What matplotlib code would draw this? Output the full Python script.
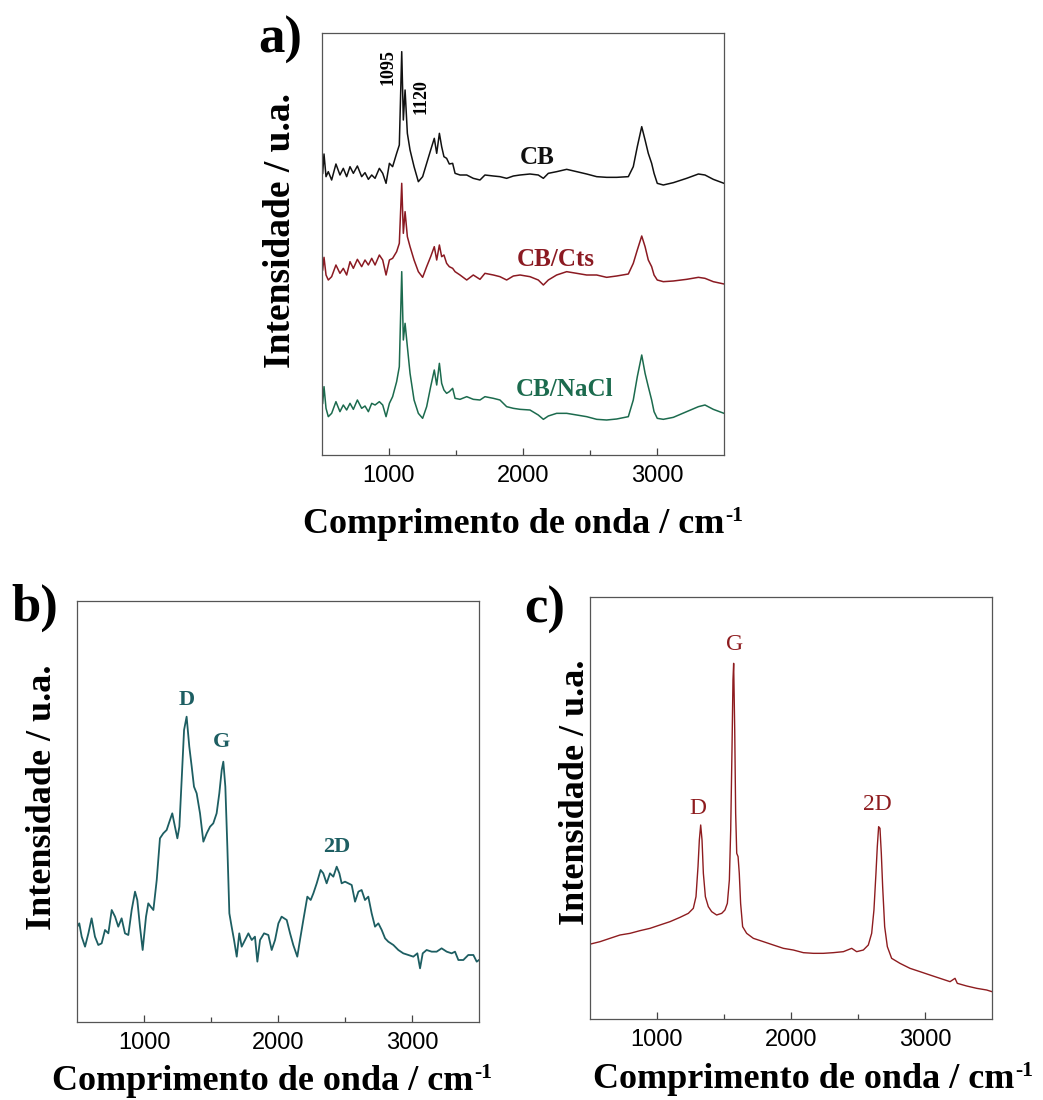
import numpy as np
import matplotlib
matplotlib.use("Agg")
import matplotlib.pyplot as plt
from matplotlib.ticker import FixedLocator

plt.rcParams['font.family'] = ['Liberation Serif', 'DejaVu Sans']

# ---- panel a: three stacked spectra on a common wavenumber grid ----
wn_a = [505, 515, 530, 547, 572, 604, 634, 659, 684, 709, 734, 764, 796, 821, 846, 871,
        896, 928, 953, 978, 1003, 1027, 1057, 1077, 1095, 1107, 1120, 1137, 1157, 1187,
        1219, 1251, 1281, 1311, 1338, 1356, 1376, 1393, 1410, 1430, 1450, 1475, 1493,
        1530, 1580, 1629, 1679, 1716, 1779, 1828, 1878, 1928, 1978, 2052, 2114, 2152,
        2189, 2251, 2326, 2401, 2475, 2550, 2624, 2699, 2786, 2823, 2853, 2886, 2911,
        2935, 2960, 2978, 3002, 3047, 3122, 3221, 3309, 3358, 3420, 3500]
cb = [40, 98, 30, 45, 20, 68, 35, 55, 30, 60, 40, 62, 30, 42, 22, 35,
      25, 55, 40, 10, 70, 60, 100, 125, 405, 200, 290, 160, 110, 60,
      15, 30, 70, 110, 145, 100, 160, 120, 90, 85, 68, 70, 40,
      35, 35, 25, 20, 35, 32, 30, 25, 32, 35, 38, 35, 25,
      40, 45, 52, 45, 38, 30, 28, 28, 30, 60, 120, 180, 140,
      100, 70, 40, 10, 5, 12, 25, 38, 35, 22, 10]
cb_cts = [50, 88, 35, 20, 30, 65, 40, 55, 35, 75, 55, 82, 60, 80, 65, 85,
          65, 95, 80, 35, 80, 85, 105, 130, 310, 160, 225, 150, 120, 80,
          45, 28, 60, 90, 120, 80, 125, 90, 95, 70, 60, 55, 45,
          35, 20, 35, 22, 40, 35, 30, 20, 32, 35, 30, 20, 5,
          20, 35, 45, 40, 35, 35, 28, 32, 38, 70, 110, 152, 120,
          80, 60, 35, 20, 15, 17, 22, 28, 25, 15, 8]
cb_nacl = [60, 110, 45, 20, 30, 65, 35, 55, 40, 60, 42, 70, 45, 52, 35, 60,
           55, 65, 55, 20, 60, 80, 125, 170, 455, 250, 300, 230, 150, 70,
           30, 15, 50, 110, 160, 115, 180, 120, 100, 90, 95, 105, 75,
           72, 80, 72, 70, 80, 75, 70, 50, 45, 42, 40, 25, 12,
           22, 30, 30, 25, 20, 12, 10, 13, 20, 70, 140, 205, 150,
           110, 70, 35, 15, 12, 18, 35, 50, 55, 42, 30]
names_a = ['CB', 'CB/Cts', 'CB/NaCl']

# ---- panel b ----
wn_b = [502, 517, 535, 560, 585, 609, 634, 659, 684, 709, 734, 759, 784, 808, 833, 858,
        883, 908, 933, 950, 970, 990, 1015, 1032, 1050, 1070, 1095, 1119, 1144, 1169,
        1194, 1211, 1231, 1249, 1264, 1281, 1299, 1318, 1338, 1356, 1373, 1393, 1418,
        1443, 1468, 1493, 1517, 1542, 1562, 1580, 1592, 1607, 1622, 1637, 1654, 1672,
        1692, 1711, 1729, 1754, 1779, 1804, 1828, 1846, 1866, 1896, 1928, 1953, 1978,
        2003, 2027, 2065, 2090, 2114, 2144, 2164, 2189, 2219, 2244, 2264, 2289, 2318,
        2338, 2363, 2388, 2413, 2438, 2458, 2475, 2500, 2525, 2550, 2575, 2600, 2624,
        2649, 2674, 2699, 2724, 2749, 2774, 2799, 2823, 2861, 2898, 2935, 2973, 3010,
        3040, 3060, 3080, 3109, 3147, 3184, 3221, 3259, 3296, 3321, 3346, 3383, 3420,
        3458, 3483, 3500]
int_b = [160, 170, 130, 100, 140, 185, 130, 105, 110, 150, 140, 210, 190, 160, 185, 140,
         135, 210, 265, 240, 160, 90, 190, 230, 220, 210, 300, 425, 440, 450,
         480, 500, 460, 425, 460, 600, 750, 790, 700, 640, 580, 560, 500,
         415, 440, 460, 470, 500, 560, 630, 655, 580, 400, 200, 160, 120,
         70, 140, 100, 120, 140, 120, 130, 55, 120, 140, 135, 90, 120,
         170, 190, 180, 140, 105, 70, 120, 180, 250, 240, 260, 290, 330,
         320, 290, 320, 310, 340, 320, 290, 295, 290, 285, 235, 265, 270,
         240, 250, 200, 160, 170, 150, 125, 115, 105, 90, 80, 75, 70,
         80, 35, 80, 90, 85, 85, 95, 85, 80, 85, 60, 60, 75,
         75, 55, 60]

# ---- panel c ----
wn_c = [505, 575, 649, 724, 799, 873, 948, 1022, 1097, 1172, 1234, 1271, 1291, 1306,
        1316, 1326, 1336, 1346, 1361, 1383, 1408, 1445, 1483, 1507, 1525, 1540, 1550,
        1560, 1567, 1572, 1580, 1587, 1595, 1605, 1614, 1624, 1639, 1669, 1719, 1794,
        1868, 1943, 2017, 2092, 2167, 2241, 2316, 2391, 2453, 2490, 2540, 2577, 2602,
        2619, 2634, 2644, 2654, 2664, 2674, 2684, 2699, 2719, 2751, 2813, 2888, 2963,
        3037, 3112, 3187, 3224, 3241, 3311, 3386, 3460, 3500]
int_c = [158, 165, 175, 185, 190, 198, 205, 215, 225, 238, 250, 265, 300, 390,
         470, 515, 470, 370, 300, 270, 255, 245, 250, 260, 280, 350, 500,
         750, 950, 1000, 800, 550, 430, 420, 370, 280, 210, 190, 175, 165,
         155, 145, 140, 132, 130, 130, 132, 135, 145, 135, 140, 155, 190,
         260, 370, 450, 510, 505, 430, 330, 210, 150, 115, 100, 85, 75,
         65, 55, 45, 55, 40, 32, 25, 20, 15]

W, H = 1043, 1100
black = '#111111'
red = '#8B1A22'
green = '#1C6B4E'
teal = '#1D5E62'
cred = '#8E1C1F'


def box(l, t, r, b):
    return [l / W, 1 - b / H, (r - l) / W, (b - t) / H]


def style(ax, ylim):
    ax.set_xlim(500, 3500)
    ax.set_ylim(*ylim)
    ax.set_yticks([])
    ax.xaxis.set_major_locator(FixedLocator([1000, 2000, 3000]))
    ax.xaxis.set_minor_locator(FixedLocator([1500, 2500]))
    ax.tick_params(axis='x', which='major', direction='in', length=5, width=0.9,
                   color='#444444', labelsize=17, pad=7)
    ax.tick_params(axis='x', which='minor', direction='in', length=3.5, width=0.9,
                   color='#444444')
    for lab in ax.get_xticklabels():
        lab.set_family('Liberation Sans')
    for s in ax.spines.values():
        s.set_color('#555555')
        s.set_linewidth(0.9)


fig = plt.figure(figsize=(W / 100, H / 100), dpi=100)

ax_a = fig.add_axes(box(322, 33, 724, 455))
ax_a.plot(wn_a, np.array(cb) + 805, color=black, lw=1.1)
ax_a.plot(wn_a, np.array(cb_cts) + 505, color=red, lw=1.1)
ax_a.plot(wn_a, np.array(cb_nacl) + 95, color=green, lw=1.1)
style(ax_a, (0, 1266))

ax_b = fig.add_axes(box(77, 601, 479, 1022))
ax_b.plot(wn_b, np.array(int_b) + 126, color=teal, lw=1.3)
style(ax_b, (0, 1263))

ax_c = fig.add_axes(box(590, 597, 992, 1019))
ax_c.plot(wn_c, np.array(int_c) + 67, color=cred, lw=1.0)
style(ax_c, (0, 1266))


def ftext(x, y, s, **kw):
    return fig.text(x / W, 1 - y / H, s, **kw)


# panel letters
ftext(258, 53, 'a)', fontsize=38, fontweight='bold', va='baseline')
ftext(11, 621, 'b)', fontsize=38, fontweight='bold', va='baseline')
ftext(524, 623, 'c)', fontsize=38, fontweight='bold', va='baseline')

# axis titles
ylab = 'Intensidade / u.a.'
ftext(280, 231, ylab, fontsize=27, fontweight='bold', rotation=90, ha='center', va='center')
ftext(43, 797, ylab, fontsize=26, fontweight='bold', rotation=90, ha='center', va='center')
ftext(576, 792, ylab, fontsize=26, fontweight='bold', rotation=90, ha='center', va='center')

renderer = fig.canvas.get_renderer()


def xtitle(xc, yb, size=26):
    main = ftext(xc, yb, 'Comprimento de onda / cm', fontsize=size,
                 fontweight='bold', ha='left', va='baseline')
    sup = ftext(xc, yb - 12, '-1', fontsize=size * 0.6, fontweight='bold',
                ha='left', va='baseline')
    w_main = main.get_window_extent(renderer).width
    w_sup = sup.get_window_extent(renderer).width
    x0 = xc - (w_main + w_sup + 1) / 2
    main.set_x(x0 / W)
    sup.set_x((x0 + w_main + 1) / W)


xtitle(523, 533)
xtitle(272, 1090)
xtitle(813, 1088)

# panel a labels
for name, col, (x, y) in zip(names_a, [black, red, green], [(537, 157), (556, 260), (565, 389)]):
    ftext(x, y, name, fontsize=18, fontweight='bold', color=col, ha='center', va='center')
ftext(388, 67, '1095', fontsize=13, fontweight='bold', rotation=90, ha='center', va='center')
ftext(421, 97, '1120', fontsize=13, fontweight='bold', rotation=90, ha='center', va='center')

# panel b labels
for s, (x, y) in zip(['D', 'G', '2D'], [(187, 700), (222, 742), (337, 847)]):
    ftext(x, y, s, fontsize=16, fontweight='bold', color=teal, ha='center', va='center')

# panel c labels
for s, (x, y) in zip(['G', 'D', '2D'], [(735, 644), (698, 808), (877, 805)]):
    ftext(x, y, s, fontsize=17, color=cred, ha='center', va='center')

fig.savefig('out.png', dpi=100)
